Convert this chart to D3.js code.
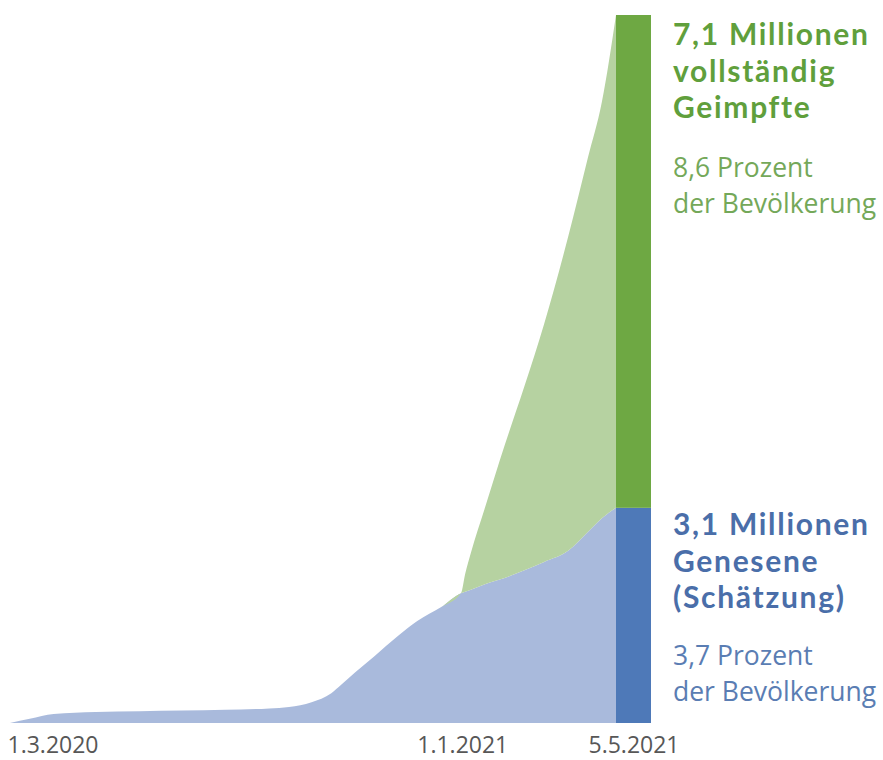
<!DOCTYPE html>
<html>
<head>
<meta charset="utf-8">
<script src="https://cdn.jsdelivr.net/npm/d3@7"></script>
<style>
  body { margin: 0; background: #fff; }
  svg { display: block; font-family: 'Open Sans', 'Noto Sans', sans-serif; }
</style>
</head>
<body>
<div id="wrapper"></div>
<script>
// data (millions of people)
const dates = ['2020-03-01', '2020-03-15', '2020-04-01', '2020-05-01', '2020-06-01', '2020-07-01',
  '2020-08-01', '2020-09-01', '2020-09-15', '2020-10-01', '2020-10-15', '2020-10-22', '2020-11-01',
  '2020-11-15', '2020-12-01', '2020-12-15', '2021-01-01', '2021-01-15', '2021-01-18', '2021-01-22',
  '2021-02-01', '2021-02-15', '2021-03-01', '2021-03-15', '2021-04-01', '2021-04-15', '2021-04-25',
  '2021-05-05'];
const recovered = [0, 0.06, 0.13, 0.16, 0.17, 0.18, 0.19, 0.21, 0.23, 0.30, 0.43, 0.55, 0.73,
  0.97, 1.25, 1.47, 1.67, 1.87, 1.89, 1.92, 2.00, 2.09, 2.20, 2.32, 2.48, 2.75, 2.95, 3.10];
const vaccinated = [0, 0, 0, 0, 0, 0, 0, 0, 0, 0, 0, 0, 0, 0, 0, 0, 0, 0,
  0.26, 0.53, 1.10, 1.91, 2.65, 3.43, 4.52, 5.39, 6.00, 7.10];

const tickDates = ['2020-03-01', '2021-01-01', '2021-05-05'];
const tickLabels = ['1.3.2020', '1.1.2021', '5.5.2021'];

const seriesKeys = ['recovered', 'vaccinated'];
const barDate = '2021-05-05';
const barValues = [3.1, 7.1];

const vaccTitle = ['7,1 Millionen', 'vollständig', 'Geimpfte'];
const vaccSub = ['8,6 Prozent', 'der Bevölkerung'];
const recTitle = ['3,1 Millionen', 'Genesene', '(Schätzung)'];
const recSub = ['3,7 Prozent', 'der Bevölkerung'];

const parseDate = d3.utcParse('%Y-%m-%d');

// dimensions
const dimensions = { width: 883, height: 760, left: 10, areaRight: 616, base: 723, top: 15, barWidth: 35 };

const wrapper = d3.select('#wrapper').append('svg')
  .attr('width', dimensions.width)
  .attr('height', dimensions.height);

// scales
const xScale = d3.scaleUtc()
  .domain([parseDate(dates[0]), parseDate(dates[dates.length - 1])])
  .range([dimensions.left, dimensions.areaRight]);

const yScale = d3.scaleLinear()
  .domain([0, d3.sum(barValues)])
  .range([dimensions.base, dimensions.top]);

const colors = {
  recovered: { area: '#a9badc', bar: '#4e79b8', title: '#4a6ea9', sub: '#5a7db3' },
  vaccinated: { area: '#b6d2a1', bar: '#6ea843', title: '#609f3c', sub: '#74a859' }
};

// stacked areas
const rows = dates.map((d, i) => ({ date: parseDate(d), recovered: recovered[i], vaccinated: vaccinated[i] }));
const stacked = d3.stack().keys(seriesKeys)(rows);

const area = d3.area()
  .x((d) => xScale(d.data.date))
  .y0((d) => yScale(d[0]))
  .y1((d) => yScale(d[1]))
  .curve(d3.curveMonotoneX);

wrapper.append('g')
  .selectAll('path')
  .data(stacked)
  .join('path')
  .attr('fill', (s) => colors[s.key].area)
  .attr('d', area);

// end bar
const barStack = d3.stack().keys(seriesKeys)([{ recovered: barValues[0], vaccinated: barValues[1] }]);
wrapper.append('g')
  .selectAll('rect')
  .data(barStack)
  .join('rect')
  .attr('x', xScale(parseDate(barDate)))
  .attr('width', dimensions.barWidth)
  .attr('y', (s) => yScale(s[0][1]))
  .attr('height', (s) => yScale(s[0][0]) - yScale(s[0][1]))
  .attr('fill', (s) => colors[s.key].bar);

// x axis labels
const xAxis = wrapper.append('g')
  .attr('transform', `translate(0, ${dimensions.base})`)
  .call(d3.axisBottom(xScale)
    .tickValues(tickDates.map(parseDate))
    .tickFormat((d, i) => tickLabels[i])
    .tickSize(0)
    .tickPadding(0));
xAxis.select('.domain').remove();
const labelShift = [{ anchor: 'start', dx: -3 }, { anchor: 'middle', dx: 21 }, { anchor: 'middle', dx: dimensions.barWidth / 2 }];
xAxis.selectAll('.tick text')
  .attr('font-family', "'Open Sans', sans-serif")
  .attr('font-size', 23)
  .attr('fill', '#575757')
  .attr('y', 30)
  .attr('dy', 0)
  .attr('text-anchor', (d, i) => labelShift[i].anchor)
  .attr('dx', (d, i) => labelShift[i].dx);

// right side annotations
const textX = 673;
function drawBlock(titleLines, subLines, key, titleY, subY) {
  const g = wrapper.append('g');
  g.append('text')
    .attr('x', textX).attr('y', titleY)
    .attr('font-family', "Lato, 'Open Sans', sans-serif")
    .attr('font-size', 30).attr('font-weight', 700)
    .attr('letter-spacing', 1.7)
    .attr('fill', colors[key].title)
    .selectAll('tspan')
    .data(titleLines)
    .join('tspan')
    .attr('x', textX)
    .attr('dy', (d, i) => (i ? 36.5 : 0))
    .text((d) => d);
  g.append('text')
    .attr('x', textX).attr('y', subY)
    .attr('font-size', 26.5)
    .attr('fill', colors[key].sub)
    .selectAll('tspan')
    .data(subLines)
    .join('tspan')
    .attr('x', textX)
    .attr('dy', (d, i) => (i ? 35.5 : 0))
    .text((d) => d);
}
drawBlock(vaccTitle, vaccSub, 'vaccinated', 45, 177);
drawBlock(recTitle, recSub, 'recovered', 535, 665);
</script>
</body>
</html>
